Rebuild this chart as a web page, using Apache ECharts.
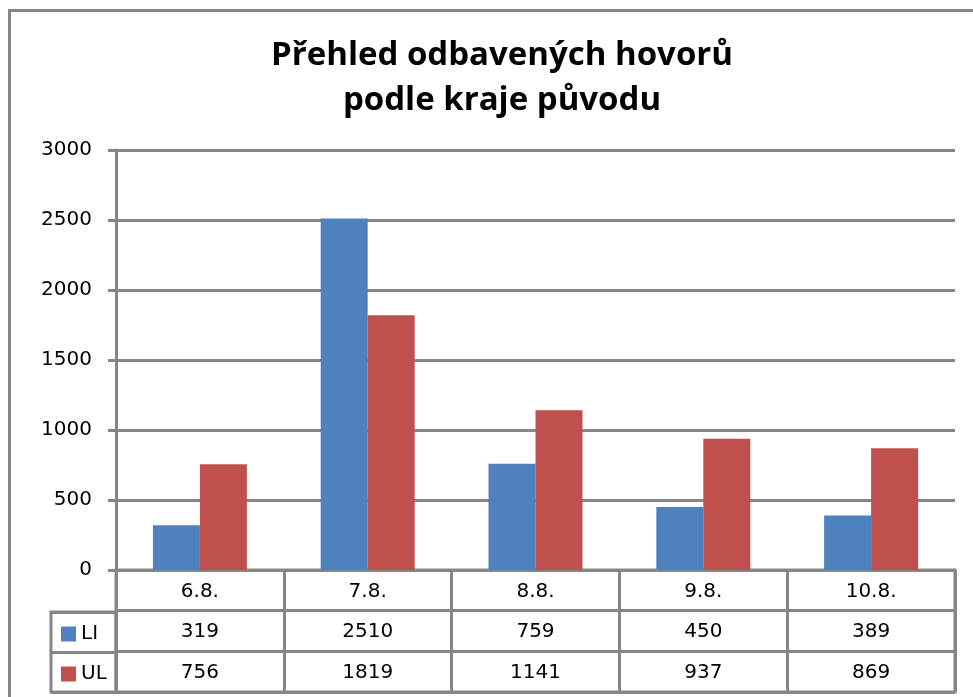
<!DOCTYPE html>
<html>
<head>
<meta charset="utf-8">
<title>Přehled odbavených hovorů</title>
<script src="https://cdn.jsdelivr.net/npm/echarts@6/dist/echarts.min.js"></script>
<style>
    html, body { margin: 0; padding: 0; background: #fff; }
    #chart { width: 973px; height: 697px; }
</style>
</head>
<body>
<div id="chart"></div>
<script>
// data
var categories = ['6.8.', '7.8.', '8.8.', '9.8.', '10.8.'];
var liData = [319, 2510, 759, 450, 389];
var ulData = [756, 1819, 1141, 937, 869];
var seriesNames = ['LI', 'UL'];
var yTicks = { min: 0, max: 3000, interval: 500 };

var lineGray = '#868686';
var labelFont = 'DejaVu Sans';

// table cells: row 0 = dates, row 1 = LI, row 2 = UL
var cells = [];
var cellTexts = [];
for (var i = 0; i < categories.length; i++) {
    cells.push([i, 0]); cellTexts.push(categories[i]);
    cells.push([i, 1]); cellTexts.push(String(liData[i]));
    cells.push([i, 2]); cellTexts.push(String(ulData[i]));
}

var chart = echarts.init(document.getElementById('chart'), null, { renderer: 'canvas' });

// one legend per row of the table
var legendRow = function (name, top) {
    return {
        data: [name],
        left: 61,
        top: top,
        padding: 0,
        icon: 'rect',
        itemWidth: 15,
        itemHeight: 15,
        itemGap: 6,
        textStyle: { fontFamily: labelFont, fontSize: 20, lineHeight: 15, color: '#000' }
    };
};

var option = {
    backgroundColor: '#ffffff',
    animation: false,
    color: ['#4F81BD', '#C0504D'],
    title: {
        text: 'Přehled odbavených hovorů\npodle kraje původu',
        left: 497,
        textAlign: 'center',
        top: 28,
        textStyle: {
            fontFamily: 'Open Sans',
            fontWeight: 'bold',
            fontSize: 33,
            lineHeight: 45,
            color: '#000'
        }
    },
    legend: [legendRow(seriesNames[0], 624), legendRow(seriesNames[1], 664)],
    grid: [
        // bar area
        { left: 116, right: 18, top: 150, height: 420 },
        // data table
        { left: 116, right: 18, top: 570, height: 122, show: true, borderColor: lineGray, borderWidth: 3 },
        // legend column
        { left: 51, top: 612, width: 65, height: 80, show: true, borderColor: lineGray, borderWidth: 3 }
    ],
    xAxis: [
        {
            gridIndex: 0,
            type: 'category',
            data: categories,
            axisLine: { show: false },
            axisTick: { show: false },
            axisLabel: { show: false }
        },
        {
            gridIndex: 1,
            type: 'category',
            data: categories,
            axisLine: { show: false },
            axisTick: { show: false },
            axisLabel: { show: false },
            splitLine: { show: true, lineStyle: { color: lineGray, width: 3 } }
        },
        {
            gridIndex: 2,
            type: 'value',
            show: false
        }
    ],
    yAxis: [
        {
            gridIndex: 0,
            type: 'value',
            min: yTicks.min,
            max: yTicks.max,
            interval: yTicks.interval,
            axisLine: { show: true, lineStyle: { color: lineGray, width: 3 } },
            axisTick: { show: true, length: 8, lineStyle: { color: lineGray, width: 3 } },
            axisLabel: {
                margin: 24,
                fontFamily: labelFont,
                fontSize: 20,
                color: '#000',
                formatter: function (v) { return String(v); }
            },
            splitLine: { show: true, lineStyle: { color: lineGray, width: 3 } }
        },
        {
            gridIndex: 1,
            type: 'category',
            inverse: true,
            data: ['', 'LI', 'UL'],
            axisLine: { show: false },
            axisTick: { show: false },
            axisLabel: { show: false },
            splitLine: { show: true, lineStyle: { color: lineGray, width: 3 } }
        },
        {
            gridIndex: 2,
            type: 'category',
            inverse: true,
            data: seriesNames,
            axisLine: { show: false },
            axisTick: { show: false },
            axisLabel: { show: false },
            splitLine: { show: true, lineStyle: { color: lineGray, width: 3 } }
        }
    ],
    graphic: [
        // outer chart border (only left and top visible in the crop)
        {
            type: 'rect',
            shape: { x: 9.5, y: 10.5, width: 2000, height: 2000 },
            style: { fill: 'none', stroke: lineGray, lineWidth: 3 },
            silent: true
        }
    ],
    series: [
        {
            name: seriesNames[0],
            type: 'bar',
            xAxisIndex: 0,
            yAxisIndex: 0,
            barGap: '0%',
            barCategoryGap: '44%',
            data: liData
        },
        {
            name: seriesNames[1],
            type: 'bar',
            xAxisIndex: 0,
            yAxisIndex: 0,
            barGap: '0%',
            barCategoryGap: '44%',
            data: ulData
        },
        {
            // texts of the table
            name: 'table',
            type: 'custom',
            xAxisIndex: 1,
            yAxisIndex: 1,
            data: cells,
            renderItem: function (params, api) {
                var p = api.coord([api.value(0), api.value(1)]);
                return {
                    type: 'text',
                    x: p[0],
                    y: p[1] + 1,
                    style: {
                        text: cellTexts[params.dataIndex],
                        fontFamily: labelFont,
                        fontSize: 20,
                        fill: '#000',
                        align: 'center',
                        verticalAlign: 'middle'
                    }
                };
            }
        }
    ]
};

chart.setOption(option);
</script>
</body>
</html>
